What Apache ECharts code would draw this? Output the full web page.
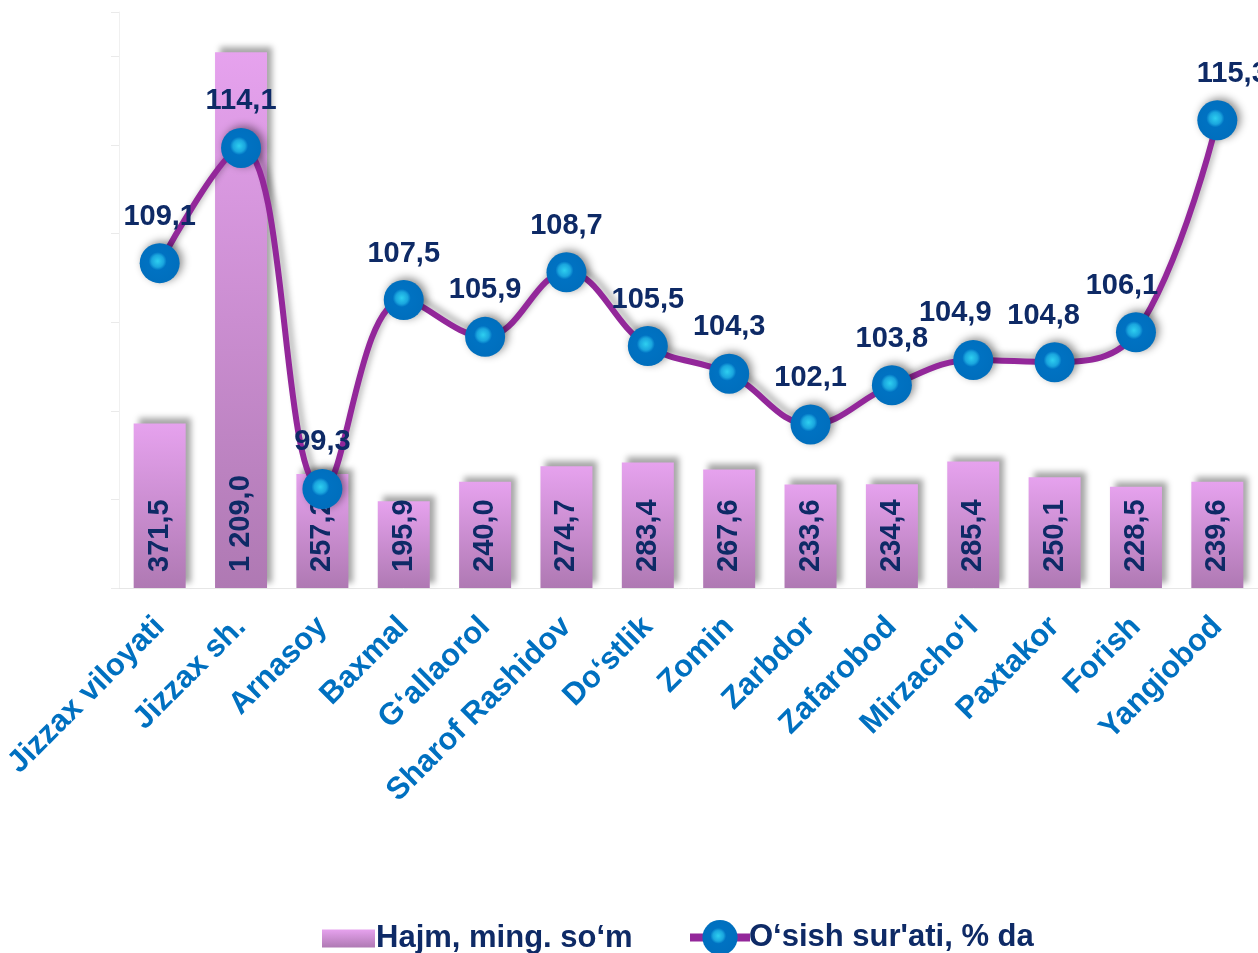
<!DOCTYPE html>
<html>
  <head>
    <meta charset="utf-8" />
    <title>Jizzax</title>
    <script src="https://cdn.jsdelivr.net/npm/echarts@6/dist/echarts.min.js"></script>
    <style>
      html, body { margin: 0; padding: 0; background: #fff; }
    </style>
  </head>
  <body>
    <div id="main" style="width: 1258px; height: 953px"></div>
    <script type="text/javascript">
      // data
      var districts = [
        "Jizzax viloyati", "Jizzax sh.", "Arnasoy", "Baxmal", "G\u2018allaorol",
        "Sharof Rashidov", "Do\u2018stlik", "Zomin", "Zarbdor", "Zafarobod",
        "Mirzacho\u2018l", "Paxtakor", "Forish", "Yangiobod"
      ];
      var volume = [371.5, 1209.0, 257.2, 195.9, 240.0, 274.7, 283.4, 267.6, 233.6, 234.4, 285.4, 250.1, 228.5, 239.6];
      var growth = [109.1, 114.1, 99.3, 107.5, 105.9, 108.7, 105.5, 104.3, 102.1, 103.8, 104.9, 104.8, 106.1, 115.3];
      var volumeName = "Hajm, ming. so\u2018m";
      var growthName = "O\u2018sish sur'ati, % da";

      var navy = "#0E2A66";
      var font = "'Liberation Sans', Arial, sans-serif";

      function fmt(v) {
        var s = v.toFixed(1).replace(".", ",");
        var parts = s.split(",");
        parts[0] = parts[0].replace(/\B(?=(\d{3})+(?!\d))/g, " ");
        return parts.join(",");
      }

      // some labels are pushed sideways in the original
      var labelNudge = { 10: -18, 11: -11, 12: -14, 13: 15 };
      var growthData = growth.map(function (v, i) {
        var item = { value: v };
        if (labelNudge[i]) item.label = { offset: [labelNudge[i], 0] };
        return item;
      });

      var markerFill = new echarts.graphic.RadialGradient(0.45, 0.45, 0.5, [
        { offset: 0, color: "#2ECFF0" },
        { offset: 0.3, color: "#1AA6DE" },
        { offset: 0.45, color: "#0072C2" },
        { offset: 1, color: "#006FBE" }
      ]);

      var myChart = echarts.init(document.getElementById("main"));

      var option = {
        animation: false,
        grid: { left: 119, right: 0, top: 12, bottom: 365 },
        legend: [
          {
            data: [{ name: volumeName, icon: "rect" }],
            left: 317,
            top: 918,
            itemWidth: 53,
            itemHeight: 18,
            textStyle: { color: navy, fontSize: 31, fontWeight: "bold", fontFamily: font, padding: [0, 0, 0, -4] }
          },
          {
            data: [growthName],
            left: 681,
            top: 915,
            itemWidth: 60,
            itemHeight: 44,
            lineStyle: { width: 8, color: "#93279A" },
            textStyle: { color: navy, fontSize: 31, fontWeight: "bold", fontFamily: font, padding: [0, 0, 0, -6] }
          }
        ],
        xAxis: {
          type: "category",
          data: districts,
          axisLine: { lineStyle: { color: "#E6E6E6", width: 1 } },
          axisTick: { length: 8, lineStyle: { color: "#E6E6E6" } },
          axisLabel: {
            rotate: 45,
            interval: 0,
            margin: 34,
            color: "#0070C0",
            fontSize: 31,
            fontWeight: "bold",
            fontFamily: font
          }
        },
        yAxis: [
          {
            type: "value",
            min: 0,
            max: 1300,
            interval: 200,
            axisLine: { show: true, lineStyle: { color: "#F0F0F0" } },
            axisTick: { show: true, length: 8, lineStyle: { color: "#EAEAEA" } },
            axisLabel: { show: false },
            splitLine: { show: false }
          },
          {
            type: "value",
            min: 95,
            max: 120,
            show: false,
            splitLine: { show: false }
          }
        ],
        series: [
          {
            name: volumeName,
            type: "bar",
            data: volume,
            barWidth: 52,
            itemStyle: {
              color: new echarts.graphic.LinearGradient(0, 0, 0, 1, [
                { offset: 0, color: "#E6A2EE" },
                { offset: 1, color: "#AF79B3" }
              ]),
              shadowColor: "rgba(0,0,0,0.35)",
              shadowBlur: 6,
              shadowOffsetX: 5,
              shadowOffsetY: -5
            },
            label: {
              show: true,
              position: "insideBottom",
              rotate: 90,
              align: "left",
              verticalAlign: "middle",
              distance: 16,
              color: navy,
              fontSize: 29,
              fontWeight: "bold",
              fontFamily: font,
              formatter: function (p) { return fmt(p.value); }
            }
          },
          {
            name: growthName,
            type: "line",
            yAxisIndex: 1,
            data: growthData,
            smooth: 0.4,
            z: 5,
            symbol: "circle",
            symbolSize: 40,
            lineStyle: {
              color: "#93279A",
              width: 6,
              shadowColor: "rgba(0,0,0,0.3)",
              shadowBlur: 6,
              shadowOffsetX: 4,
              shadowOffsetY: -4
            },
            itemStyle: {
              color: markerFill,
              shadowColor: "rgba(0,0,0,0.45)",
              shadowBlur: 8,
              shadowOffsetX: 3,
              shadowOffsetY: -2
            },
            label: {
              show: true,
              position: "top",
              distance: 12,
              color: navy,
              fontSize: 29,
              fontWeight: "bold",
              fontFamily: font,
              formatter: function (p) { return fmt(p.value); }
            }
          }
        ]
      };

      myChart.setOption(option);
    </script>
  </body>
</html>
